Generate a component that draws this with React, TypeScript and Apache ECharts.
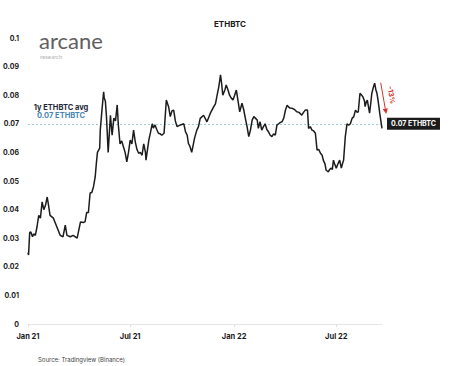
import React, { useEffect, useRef } from "react";
import * as echarts from "echarts";

const START_DATE = "2021-01-01";
const END_DATE = "2022-09-20";
const DAY_MS = 86400000;

// days since START_DATE
const dayOffsets = [
  0, 1, 3, 5, 8, 10, 13, 16, 19, 22, 25, 28, 31, 34, 36, 39, 45, 51, 57, 62,
  66, 69, 75, 80, 87, 93, 98, 101, 104, 107, 110, 113, 116, 119, 121, 123, 127, 128, 131, 134,
  135, 137, 139, 142, 146, 149, 152, 155, 158, 160, 163, 166, 169, 172, 175, 178, 181, 184, 187, 190,
  193, 196, 199, 202, 205, 208, 209, 214, 217, 220, 222, 225, 228, 231, 234, 237, 241, 245, 249, 252,
  255, 258, 261, 264, 270, 276, 279, 282, 284, 287, 290, 295, 299, 302, 305, 311, 317, 323, 329, 332,
  335, 338, 341, 343, 345, 349, 351, 354, 357, 360, 363, 366, 369, 372, 375, 379, 382, 385, 388, 391,
  394, 397, 400, 403, 406, 408, 411, 414, 417, 420, 423, 426, 429, 432, 435, 438, 441, 444, 447, 450,
  453, 456, 459, 461, 464, 468, 472, 476, 480, 485, 488, 491, 495, 497, 500, 503, 506, 509, 512, 515,
  518, 521, 523, 526, 528, 530, 532, 534, 537, 539, 541, 543, 546, 549, 552, 555, 557, 559, 562, 565,
  568, 571, 574, 577, 580, 583, 585, 588, 591, 593, 596, 597, 599, 601, 603, 605, 607, 609, 612, 614,
  616, 618, 620, 623, 625, 627,
];

const ethbtc = [
  0.025, 0.0241, 0.032, 0.0322, 0.0305, 0.0315, 0.031, 0.034, 0.038, 0.037, 0.0427, 0.04, 0.0415, 0.0444, 0.042, 0.038, 0.037, 0.034, 0.031, 0.0305,
  0.0346, 0.031, 0.0305, 0.031, 0.03, 0.0357, 0.0355, 0.0357, 0.039, 0.039, 0.0458, 0.046, 0.048, 0.0514, 0.056, 0.06, 0.0615, 0.0678, 0.0748, 0.0812,
  0.079, 0.078, 0.0725, 0.06, 0.073, 0.066, 0.072, 0.071, 0.0766, 0.0696, 0.063, 0.064, 0.062, 0.06, 0.0567, 0.06, 0.0643, 0.063, 0.0678, 0.0637,
  0.061, 0.0597, 0.06, 0.059, 0.063, 0.06, 0.0573, 0.0643, 0.067, 0.07, 0.0685, 0.0696, 0.068, 0.0667, 0.0665, 0.066, 0.0667, 0.0783, 0.076, 0.0725,
  0.0745, 0.0748, 0.071, 0.069, 0.0696, 0.07, 0.0672, 0.066, 0.0632, 0.062, 0.06, 0.065, 0.0678, 0.069, 0.0719, 0.073, 0.0707, 0.0737, 0.076, 0.077,
  0.08, 0.083, 0.0871, 0.084, 0.08, 0.082, 0.0836, 0.082, 0.08, 0.079, 0.0783, 0.08, 0.0818, 0.078, 0.0742, 0.0772, 0.075, 0.0719, 0.069, 0.0655,
  0.0678, 0.0713, 0.0725, 0.0719, 0.0713, 0.0684, 0.0707, 0.0678, 0.069, 0.07, 0.068, 0.0672, 0.066, 0.0655, 0.0665, 0.066, 0.0696, 0.07, 0.0705, 0.0707,
  0.072, 0.0748, 0.0765, 0.076, 0.0755, 0.0754, 0.075, 0.0742, 0.074, 0.073, 0.074, 0.0748, 0.0748, 0.0684, 0.069, 0.0678, 0.0675, 0.0667, 0.0608, 0.061,
  0.0597, 0.059, 0.0573, 0.056, 0.0538, 0.0535, 0.0532, 0.054, 0.0545, 0.054, 0.0573, 0.056, 0.0545, 0.056, 0.0573, 0.0545, 0.056, 0.0573, 0.0655, 0.07,
  0.0695, 0.07, 0.0719, 0.0725, 0.0748, 0.074, 0.0742, 0.0807, 0.08, 0.0795, 0.078, 0.076, 0.0775, 0.0783, 0.076, 0.0737, 0.077, 0.0807, 0.083, 0.0842,
  0.082, 0.0807, 0.0783, 0.0737, 0.071, 0.0684,
];

const xTickDates = ["2021-01-01", "2021-07-01", "2022-01-01", "2022-07-01"];
const xTickLabels = ["Jan 21", "Jul 21", "Jan 22", "Jul 22"];
const yMin = 0;
const yMax = 0.1;
const yStep = 0.01;
const avgValue = 0.07;
const avgTitle = "1y ETHBTC avg";
const avgText = "0.07 ETHBTC";
const endLabel = "0.07 ETHBTC";
const dropText = "-13%";
const titleText = "ETHBTC";
const sourceText = "Source: Tradingview (Binance)";

const FONT = "Inter, 'Noto Sans', sans-serif";

export default function App() {
  const ref = useRef<HTMLDivElement>(null);
  useEffect(() => {
    if (!ref.current) return;
    const chart = echarts.init(ref.current, undefined, { renderer: "svg" });
    const start = Date.parse(START_DATE);
    const end = Date.parse(END_DATE);
    const data = dayOffsets.map((d, i) => [start + d * DAY_MS, ethbtc[i]]);
    const tickTs = xTickDates.map((s) => Date.parse(s));

    const dir = [0.172, 0.985];
    const tip = [386.2, 114];
    const head = 5.5;
    const hw = 2.6;
    const bc = [tip[0] - head * dir[0], tip[1] - head * dir[1]];
    const perp = [dir[1], -dir[0]];

    chart.setOption({
      animation: false,
      backgroundColor: "#ffffff",
      title: {
        text: titleText,
        left: "center",
        top: 15,
        textStyle: { fontFamily: FONT, fontSize: 8, fontWeight: "bold", color: "#1a1a1a" },
      },
      grid: { left: 28, right: 78, top: 38, bottom: 42, outerBoundsMode: "none" },
      xAxis: {
        type: "value",
        min: start,
        max: end,
        axisLine: { show: true, lineStyle: { color: "#e6e6e6", width: 1 } },
        axisTick: { show: true, customValues: tickTs, length: 3, lineStyle: { color: "#e0e0e0" } },
        splitLine: { show: false },
        axisLabel: {
          customValues: tickTs,
          margin: 8,
          fontFamily: FONT,
          fontSize: 7.5,
          fontWeight: "bold",
          color: "#1a1a1a",
          formatter: (v: number) => {
            const i = tickTs.indexOf(v);
            return i >= 0 ? xTickLabels[i] : "";
          },
        },
      },
      yAxis: {
        type: "value",
        min: yMin,
        max: yMax,
        interval: yStep,
        axisLine: { show: false },
        axisTick: { show: false },
        splitLine: { show: false },
        axisLabel: {
          margin: 9,
          fontFamily: FONT,
          fontSize: 7,
          fontWeight: "bold",
          color: "#1a1a1a",
          formatter: (v: number) => String(+v.toFixed(2)),
        },
      },
      series: [
        {
          type: "line",
          data,
          symbol: "none",
          lineStyle: { color: "#1c1c1c", width: 1.5 },
          z: 3,
          markLine: {
            silent: true,
            symbol: ["none", "none"],
            lineStyle: { color: "#9fcbe0", type: [2, 2], width: 1 },
            label: {
              show: true,
              position: "end",
              distance: 5,
              formatter: endLabel,
              backgroundColor: "#1c1c1c",
              color: "#ffffff",
              fontFamily: FONT,
              fontSize: 7,
              fontWeight: "bold",
              padding: [3, 4, 2, 4],
            },
            data: [{ yAxis: avgValue }],
            z: 2,
          },
        },
      ],
      graphic: [
        {
          type: "text",
          left: 39,
          top: 29,
          style: {
            text: "arcane",
            font: "400 22px Lato, 'Open Sans', sans-serif",
            fill: "#606060",
            lineHeight: 22,
          },
        },
        {
          type: "text",
          left: 40,
          top: 53,
          style: { text: "research", font: "400 6px Lato, sans-serif", fill: "#b0b0b0", lineHeight: 6 },
        },
        {
          type: "text",
          x: 61,
          y: 107,
          style: {
            text: avgTitle,
            font: `bold 7.5px ${FONT}`,
            fill: "#1f2a3a",
            align: "center",
            verticalAlign: "middle",
          },
        },
        {
          type: "text",
          x: 61,
          y: 115.5,
          style: {
            text: avgText,
            font: `bold 7.5px ${FONT}`,
            fill: "#4a86b4",
            align: "center",
            verticalAlign: "middle",
          },
        },
        {
          type: "line",
          shape: { x1: 380.7, y1: 82.7, x2: bc[0], y2: bc[1] },
          style: { stroke: "#d6342b", lineWidth: 1 },
        },
        {
          type: "polygon",
          shape: {
            points: [
              [tip[0], tip[1]],
              [bc[0] + hw * perp[0], bc[1] + hw * perp[1]],
              [bc[0] - hw * perp[0], bc[1] - hw * perp[1]],
            ],
          },
          style: { fill: "#d6342b" },
        },
        {
          type: "text",
          x: 391.5,
          y: 95,
          rotation: -1.4,
          style: {
            text: dropText,
            font: `bold 7px ${FONT}`,
            fill: "#d6342b",
            align: "center",
            verticalAlign: "middle",
          },
        },
        {
          type: "text",
          left: 38,
          top: 356,
          style: { text: sourceText, font: `6px ${FONT}`, fill: "#444444" },
        },
      ],
    });
    return () => chart.dispose();
  }, []);
  return (
    <div
      ref={ref}
      style={{ position: "fixed", left: 0, top: 0, width: 460, height: 366, background: "#fff" }}
    />
  );
}
